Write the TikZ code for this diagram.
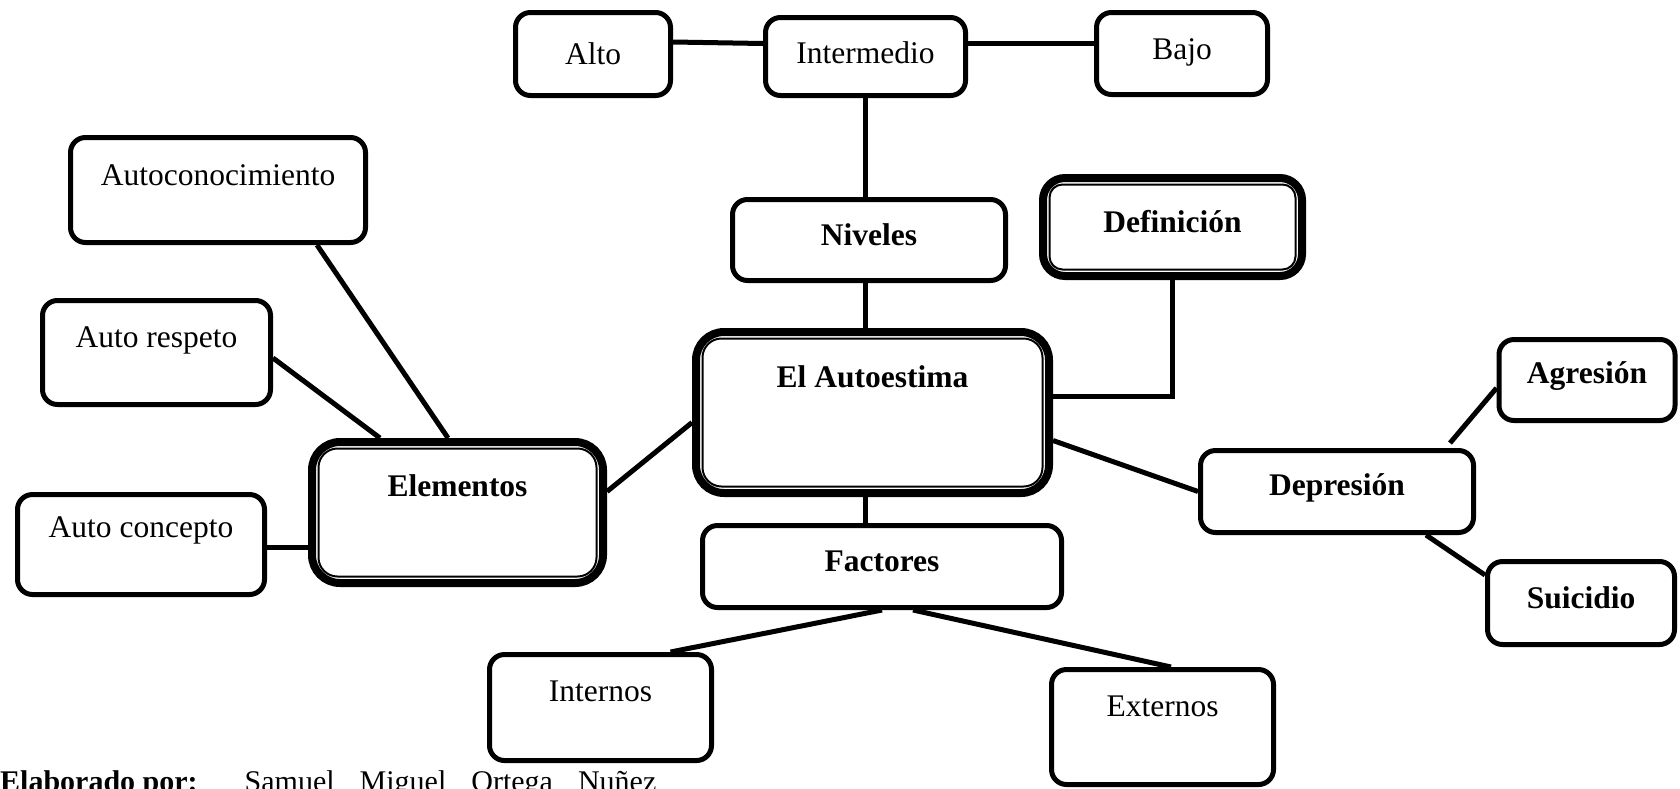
\documentclass[tikz,border=0pt]{standalone}
\usepackage{fontspec}
\setmainfont{Liberation Serif}
\usetikzlibrary{positioning}

\begin{document}
\begin{tikzpicture}[
    x=1pt, y=-1pt,
    box/.style={draw=black, line width=5pt, rounded corners=15pt, inner sep=0pt,
                anchor=north, align=center, font=\fontsize{31.5}{38}\selectfont},
    boldbox/.style={box, font=\fontsize{31.5}{38}\selectfont\bfseries},
    dbox/.style={boldbox, line width=8pt, rounded corners=28pt},
    frame/.style={draw=black, line width=2pt},
    link/.style={line width=5pt}
]
    \useasboundingbox (0,0) rectangle (1680,788);

    % Niveles
    \node[box, minimum width=155pt, text height=51.5pt, text depth=31.5pt] (alto) at (593,10) {Alto};
    \node[box, minimum width=200pt, text height=45.5pt, text depth=32.5pt] (intermedio) at (865.5,15) {Intermedio};
    \node[box, minimum width=171pt, text height=46.5pt, text depth=35.5pt] (bajo) at (1182,10) {Bajo};
    \node[boldbox, minimum width=273pt, text height=45.5pt, text depth=35.5pt] (niveles) at (869,197) {Niveles};

    % Centre
    \node[dbox, minimum width=353pt, text height=55pt, text depth=106pt] (autoestima) at (872.5,328) {El Autoestima};
    \node[dbox, rounded corners=22pt, minimum width=259pt, text height=54pt, text depth=44pt] (definicion) at (1172.5,174) {Definición};

    % Elementos
    \node[box, minimum width=295pt, text height=47.5pt, text depth=57.5pt] (autoconocimiento) at (218,135) {Autoconocimiento};
    \node[box, minimum width=228pt, text height=46.5pt, text depth=57.5pt] (autorespeto) at (156.5,298) {Auto respeto};
    \node[box, minimum width=247pt, text height=42.5pt, text depth=57.5pt] (autoconcepto) at (141,492) {Auto concepto};
    \node[dbox, minimum width=291pt, text height=54pt, text depth=87pt] (elementos) at (457.5,438) {Elementos};

    % Depresion
    \node[boldbox, minimum width=273pt, text height=44.5pt, text depth=37.5pt] (depresion) at (1337,448) {Depresión};
    \node[boldbox, minimum width=176pt, text height=43.5pt, text depth=37.5pt] (agresion) at (1587,337) {Agresión};
    \node[boldbox, minimum width=187pt, text height=46.5pt, text depth=36.5pt] (suicidio) at (1581,559) {Suicidio};

    % Factores
    \node[boldbox, minimum width=359pt, text height=45.5pt, text depth=36.5pt] (factores) at (882,523) {Factores};
    \node[box, minimum width=222pt, text height=46.5pt, text depth=59.5pt] (internos) at (600.5,652) {Internos};
    \node[box, minimum width=222pt, text height=46.5pt, text depth=68.5pt] (externos) at (1162.5,667) {Externos};

    % Inner frames
    \foreach \n/\r in {autoestima/19, elementos/19, definicion/13}
        \draw[frame, rounded corners=\r pt] ([shift={(10.5,10.5)}]\n.north west) rectangle ([shift={(-10.5,-10.5)}]\n.south east);

    % Author
    \node[anchor=base west, inner sep=0pt, font=\fontsize{30}{36}\selectfont] (autor) at (0,791.5)
        {\textbf{Elaborado por:}\hspace{47pt}{\spaceskip=25pt Samuel Miguel Ortega Nuñez}};

    % Links
    \draw[link] ([yshift=12pt]alto.east) -- ([yshift=13pt]intermedio.west);
    \draw[link] ([yshift=13pt]intermedio.east) -- ([yshift=10pt]bajo.east -| bajo.west);
    \draw[link] ([xshift=-0.5pt]intermedio.south) -- ([xshift=-0.5pt]intermedio.south |- niveles.north);
    \draw[link] ([xshift=-4pt]niveles.south) -- ([xshift=-4pt]niveles.south |- autoestima.north);
    \draw[link] (definicion.south) |- ([yshift=16pt]autoestima.east);
    \draw[link] ([yshift=-28pt]autoestima.east) -- (depresion.west);
    \draw[link] ([yshift=-10pt]autoestima.west) -- ([yshift=21pt]elementos.east);
    \draw[link] ([xshift=-7.5pt]autoestima.south) -- ([xshift=-7.5pt]autoestima.south |- factores.north);
    \draw[link] (factores.south) -- ([xshift=70pt]internos.north);
    \draw[link] ([xshift=31pt]factores.south) -- ([xshift=8.5pt]externos.north);
    \draw[link] ([xshift=113pt, yshift=5pt]depresion.north) -- ([yshift=-8pt]agresion.west);
    \draw[link] ([xshift=89pt]depresion.south) -- ([yshift=28pt]suicidio.west);
    \draw[link] ([xshift=99pt]autoconocimiento.south) -- ([xshift=-9.5pt]elementos.north);
    \draw[link] ([yshift=-5.5pt]autorespeto.east) -- ([xshift=-77.5pt]elementos.north);
    \draw[link] ([yshift=-3pt]autoconcepto.east) -- ([yshift=-3pt]autoconcepto.east -| elementos.west);

\end{tikzpicture}
\end{document}
